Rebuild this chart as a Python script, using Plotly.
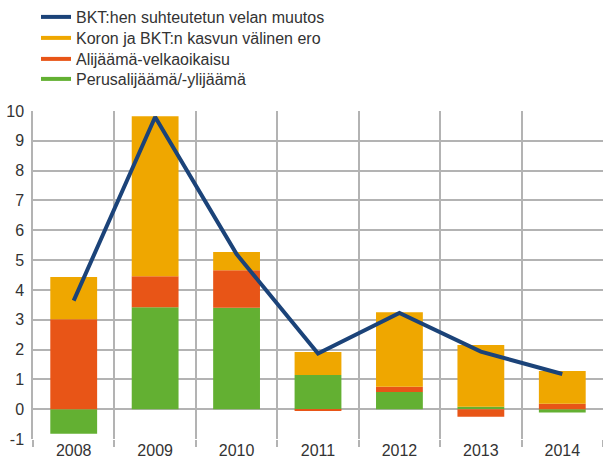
import plotly.graph_objects as go

years = ["2008", "2009", "2010", "2011", "2012", "2013", "2014"]
debt_change = [3.64, 9.80, 5.20, 1.87, 3.23, 1.93, 1.18]
interest_growth = [1.41, 5.36, 0.61, 0.77, 2.50, 2.07, 1.10]
deficit_debt = [3.02, 1.04, 1.26, -0.05, 0.17, -0.25, 0.18]
primary_balance = [-0.82, 3.42, 3.40, 1.15, 0.58, 0.08, -0.11]
y_tick_vals = [-1, 0, 1, 2, 3, 4, 5, 6, 7, 8, 9, 10]
y_tick_text = ["-1", "0", "1", "2", "3", "4", "5", "6", "7", "8", "9", "10"]

names = ["BKT:hen suhteutetun velan muutos", "Koron ja BKT:n kasvun välinen ero",
         "Alijäämä-velkaoikaisu", "Perusalijäämä/-ylijäämä"]
c_blue, c_orange, c_red, c_green = "#1b4379", "#efa700", "#e85517", "#63b032"
grid = "#b3b3b3"

W, H = 603, 464
fig = go.Figure()
fig.add_bar(x=years, y=primary_balance, marker_color=c_green, marker_line_width=0, showlegend=False, name=names[3])
fig.add_bar(x=years, y=deficit_debt, marker_color=c_red, marker_line_width=0, showlegend=False, name=names[2])
fig.add_bar(x=years, y=interest_growth, marker_color=c_orange, marker_line_width=0, showlegend=False, name=names[1])
fig.add_scatter(x=years, y=debt_change, mode="lines", line=dict(color=c_blue, width=4), name=names[0], showlegend=False)

legend_rows_y = [17, 38, 59, 79]
legend_ids = ["legend", "legend2", "legend3", "legend4"]
lay = {}
for nm, col, lid, ry in zip(names, [c_blue, c_orange, c_red, c_green], legend_ids, legend_rows_y):
    fig.add_scatter(x=[None], y=[None], mode="lines", line=dict(color=col, width=4), name=nm, legend=lid)
    lay[lid] = dict(xref="container", yref="container", x=36 / W, y=1 - ry / H,
                    xanchor="left", yanchor="middle", font=dict(size=16, color="#333333"),
                    itemwidth=30, bgcolor="rgba(0,0,0,0)", borderwidth=0)

fig.update_layout(
    width=W, height=H,
    margin=dict(l=33, r=0, t=111, b=25, autoexpand=False),
    barmode="relative", bargap=0.425,
    plot_bgcolor="white", paper_bgcolor="white",
    font=dict(family="Liberation Sans, Arial, sans-serif", size=16, color="#333333"),
    xaxis=dict(type="category", tickson="boundaries", showgrid=True, gridcolor=grid, gridwidth=1.5,
               ticks="outside", ticklen=7, tickcolor=grid, tickwidth=1.5, showline=False,
               range=[-0.5, 6.5], tickangle=0),
    yaxis=dict(range=[-1, 10], tickvals=y_tick_vals, ticktext=y_tick_text, showgrid=True,
               gridcolor=grid, gridwidth=1.5, zeroline=False, showline=True, linecolor=grid,
               linewidth=1.5, ticks="", ticklabelstandoff=4),
    **lay,
)
fig.write_html("out.html", config={"displayModeBar": False},
               post_script="document.body.style.margin='0';document.body.style.padding='0';")
